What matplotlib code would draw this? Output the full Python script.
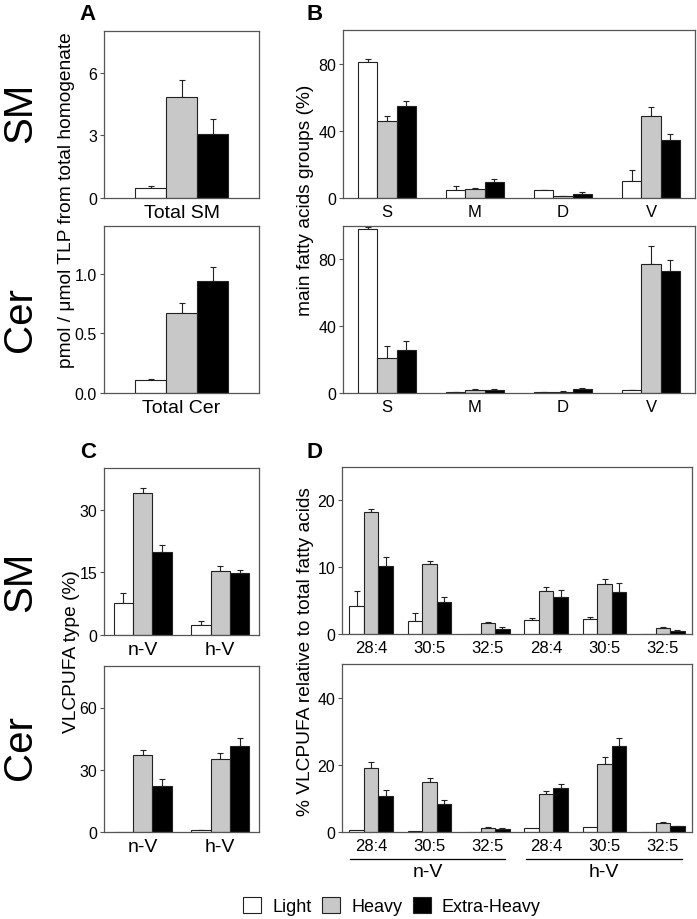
import numpy as np
import matplotlib
matplotlib.use("Agg")
import matplotlib.pyplot as plt
from matplotlib.patches import Patch
import matplotlib.transforms as mtransforms

plt.rcParams['font.family'] = ['Liberation Sans', 'DejaVu Sans']

groups = ['Light', 'Heavy', 'Extra-Heavy']
colors = ['white', '#c8c8c8', 'black']

# panel A: totals
a_sm = [0.5, 4.85, 3.05]
a_sm_err = [0.08, 0.78, 0.75]
a_cer = [0.11, 0.67, 0.935]
a_cer_err = [0.01, 0.085, 0.12]

# panel B: main fatty acid groups (%)
b_cats = ['S', 'M', 'D', 'V']
b_sm = [[81, 5, 4.6, 10.1], [45.8, 5.2, 1, 49.1], [54.5, 9.4, 2.4, 34.6]]
b_sm_err = [[1.6, 2, 0.4, 6.8], [3, 0.6, 0.2, 5], [3.2, 1.8, 1, 3.6]]
b_cer = [[98.5, 0.5, 0.3, 1.5], [21, 1.6, 0.8, 77.4], [25.6, 1.6, 2.2, 73]]
b_cer_err = [[1, 0.2, 0.1, 0.2], [7.2, 1, 0.4, 10.8], [5.4, 1, 0.6, 6.6]]

# panel C: VLCPUFA type (%)
c_cats = ['n-V', 'h-V']
c_sm = [[7.7, 2.5], [34, 15.3], [19.9, 14.9]]
c_sm_err = [[2.4, 0.8], [1.3, 1.2], [1.7, 0.7]]
c_cer = [[0, 0.8], [37.2, 35], [22.3, 41.3]]
c_cer_err = [[0, 0.2], [2.3, 2.9], [3.2, 3.8]]

# panel D: individual VLCPUFA
d_cats = ['28:4', '30:5', '32:5', '28:4', '30:5', '32:5']
d_sm = [[4.25, 2.0, 0, 2.1, 2.2, 0],
        [18.2, 10.5, 1.7, 6.5, 7.5, 0.85],
        [10.2, 4.75, 0.8, 5.6, 6.3, 0.45]]
d_sm_err = [[2.15, 1.1, 0, 0.3, 0.3, 0],
            [0.5, 0.4, 0.1, 0.5, 0.7, 0.15],
            [1.3, 0.75, 0.2, 1.0, 1.3, 0.1]]
d_cer = [[0.6, 0.3, 0, 1.3, 1.4, 0],
         [19, 15, 1.1, 11.2, 20.2, 2.7],
         [10.8, 8.2, 0.8, 13, 25.6, 1.7]]
d_cer_err = [[0, 0, 0, 0, 0, 0],
             [1.8, 1.1, 0.5, 1.1, 2.0, 0.3],
             [1.6, 1.3, 0.3, 1.3, 2.4, 0.1]]

W, H = 697, 920
fig = plt.figure(figsize=(W / 100, H / 100), dpi=100)


def box(l, t, r, b):
    return [l / W, 1 - b / H, (r - l) / W, (b - t) / H]


def bars(ax, vals, errs, cats, width, ylim, yticks, fmt='{:g}', xsize=12):
    x = np.arange(len(cats))
    for i in range(3):
        xs = x + (i - 1) * width
        ax.bar(xs, vals[i], width, color=colors[i], edgecolor='#222222', linewidth=0.8, zorder=2)
        e = np.array(errs[i])
        m = e > 0
        if m.any():
            ax.errorbar(xs[m], np.array(vals[i])[m], yerr=[np.zeros(m.sum()), e[m]],
                        fmt='none', ecolor='#222222', elinewidth=0.8, capsize=2.5,
                        capthick=0.8, zorder=1)
    ax.set_xlim(-0.5, len(cats) - 0.5)
    ax.set_ylim(0, ylim)
    ax.set_yticks(yticks)
    ax.set_yticklabels([fmt.format(v) for v in yticks])
    ax.set_xticks(x)
    ax.set_xticklabels(cats)
    ax.tick_params(axis='x', length=0, labelsize=xsize, pad=4)
    ax.tick_params(axis='y', length=3, width=0.8, color='#555555', labelsize=11.5, pad=2)
    for s in ax.spines.values():
        s.set_color('#555555')
        s.set_linewidth(0.9)


axA1 = fig.add_axes(box(104, 32, 259, 199))
bars(axA1, [[v] for v in a_sm], [[v] for v in a_sm_err], ['Total SM'], 0.2, 8, [0, 3, 6], xsize=14)
axA2 = fig.add_axes(box(104, 227, 259, 394))
bars(axA2, [[v] for v in a_cer], [[v] for v in a_cer_err], ['Total Cer'], 0.2, 1.4,
     [0, 0.5, 1.0], '{:.1f}', xsize=14)

axB1 = fig.add_axes(box(343, 31, 695, 199))
bars(axB1, b_sm, b_sm_err, b_cats, 0.22, 100, [0, 40, 80], xsize=12)
axB2 = fig.add_axes(box(343, 227, 695, 394))
bars(axB2, b_cer, b_cer_err, b_cats, 0.22, 100, [0, 40, 80], xsize=12)

axC1 = fig.add_axes(box(104, 469, 259, 636))
bars(axC1, c_sm, c_sm_err, c_cats, 0.25, 40, [0, 15, 30], xsize=14)
axC2 = fig.add_axes(box(104, 667, 259, 833))
bars(axC2, c_cer, c_cer_err, c_cats, 0.25, 80, [0, 30, 60], xsize=14)

axD1 = fig.add_axes(box(342, 468, 692, 635))
bars(axD1, d_sm, d_sm_err, d_cats, 0.25, 25, [0, 10, 20], xsize=12)
axD2 = fig.add_axes(box(342, 665, 692, 833))
bars(axD2, d_cer, d_cer_err, d_cats, 0.25, 50, [0, 20, 40], xsize=12)

# group underlines for panel D
tr = mtransforms.blended_transform_factory(axD2.transData, axD2.transAxes)
for x0, x1, lab in [(-0.36, 2.3, 'n-V'), (2.66, 5.33, 'h-V')]:
    axD2.plot([x0, x1], [-0.159, -0.159], color='black', lw=0.9, transform=tr, clip_on=False)
    axD2.text((x0 + x1) / 2, -0.235, lab, transform=tr, ha='center', va='center', fontsize=14)


def fy(py):
    return 1 - py / H


# y labels
fig.text(67 / W, fy(200), 'pmol / \u03bcmol TLP from total homogenate', rotation=90,
         ha='center', va='center', fontsize=13.8)
fig.text(305 / W, fy(200), 'main fatty acids groups (%)', rotation=90,
         ha='center', va='center', fontsize=13.8)
fig.text(72 / W, fy(652), 'VLCPUFA type (%)', rotation=90, ha='center', va='center', fontsize=13.8)
fig.text(305 / W, fy(652), '% VLCPUFA relative to total fatty acids', rotation=90,
         ha='center', va='center', fontsize=13.8)

# row labels
for y, lab in [(113, 'SM'), (320, 'Cer'), (582, 'SM'), (748, 'Cer')]:
    fig.text(20 / W, fy(y), lab, rotation=90, ha='center', va='center', fontsize=29)

# panel letters
for x, y, lab in [(88, 14, 'A'), (315, 14, 'B'), (88, 452, 'C'), (315, 452, 'D')]:
    fig.text(x / W, fy(y), lab, ha='center', va='center', fontsize=16, fontweight='bold')

handles = [Patch(facecolor=c, edgecolor='#222222', linewidth=0.8) for c in colors]
fig.legend(handles, groups, loc='center', bbox_to_anchor=(392 / W, fy(907)), ncol=3,
           frameon=False, fontsize=13, handlelength=1.0, handleheight=1.0,
           handletextpad=0.6, columnspacing=0.6)

fig.savefig('out.png', dpi=100)
